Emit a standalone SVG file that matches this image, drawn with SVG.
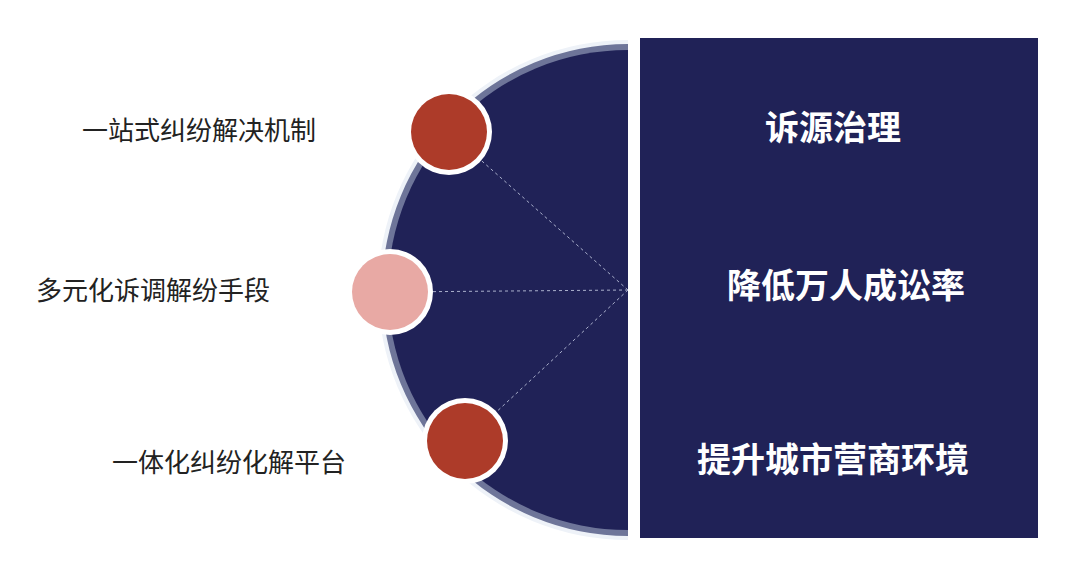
<svg xmlns="http://www.w3.org/2000/svg" width="1080" height="586" viewBox="0 0 1080 586">
<style>
.l{font-family:"Noto Sans CJK SC",sans-serif;font-size:26px;fill:#222}
.r{font-family:"Noto Sans CJK SC",sans-serif;font-size:34px;font-weight:bold;fill:#fff}
.d{stroke:#aab0cc;stroke-width:1;stroke-dasharray:3,3;fill:none}
</style>
<rect width="1080" height="586" fill="#fff"/>
<g id="half">
<path d="M628,40 A250,250 0 0 0 628,540 Z" fill="#eef2f8"/>
<path d="M628,44 A246,246 0 0 0 628,536 Z" fill="#6e7599"/>
<path d="M628,50 A240,240 0 0 0 628,530 Z" fill="#202257"/>
</g>
<g id="connectors">
<line class="d" x1="628" y1="290" x2="449" y2="132"/>
<line class="d" x1="628" y1="290" x2="390" y2="292"/>
<line class="d" x1="628" y1="290" x2="465" y2="441"/>
</g>
<g id="panel"><rect x="640" y="38" width="398" height="500" fill="#202257"/></g>
<g id="n1"><circle cx="449" cy="132" r="43" fill="#fff"/><circle cx="449" cy="132" r="38" fill="#ad3b29"/>
<text class="l" x="82" y="140">一站式纠纷解决机制</text></g>
<g id="n2"><circle cx="390" cy="292" r="43" fill="#fff"/><circle cx="390" cy="292" r="38" fill="#e8a9a4"/>
<text class="l" x="36" y="300">多元化诉调解纷手段</text></g>
<g id="n3"><circle cx="465" cy="441" r="43" fill="#fff"/><circle cx="465" cy="441" r="38" fill="#ad3b29"/>
<text class="l" x="112" y="472">一体化纠纷化解平台</text></g>
<g id="t1"><text class="r" x="833" y="140" text-anchor="middle">诉源治理</text></g>
<g id="t2"><text class="r" x="846" y="298" text-anchor="middle">降低万人成讼率</text></g>
<g id="t3"><text class="r" x="833" y="472" text-anchor="middle">提升城市营商环境</text></g>
</svg>
